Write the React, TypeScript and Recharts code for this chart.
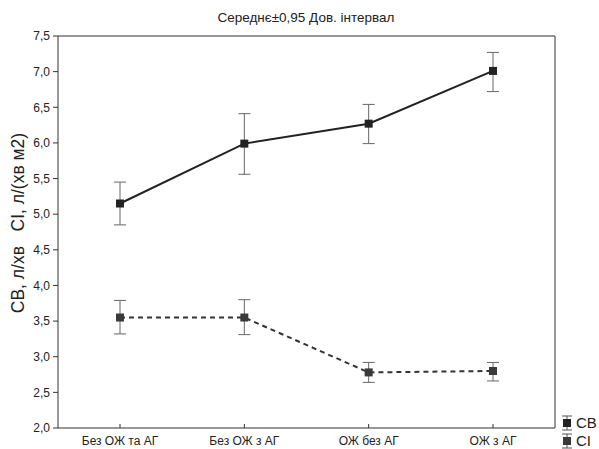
import React from 'react';
import { LineChart, Line, XAxis, YAxis, ErrorBar } from 'recharts';

// groups on the x axis
const groups = ['Без ОЖ та АГ', 'Без ОЖ з АГ', 'ОЖ без АГ', 'ОЖ з АГ'];

// СВ, л/хв: mean and 0.95 confidence limits
const cbMean = [5.15, 5.99, 6.27, 7.01];
const cbLow = [4.85, 5.56, 5.99, 6.72];
const cbHigh = [5.45, 6.41, 6.54, 7.27];

// СІ, л/(хв м2): mean and 0.95 confidence limits
const ciMean = [3.55, 3.55, 2.78, 2.8];
const ciLow = [3.32, 3.31, 2.64, 2.66];
const ciHigh = [3.79, 3.8, 2.92, 2.92];

const yTicks = [2, 2.5, 3, 3.5, 4, 4.5, 5, 5.5, 6, 6.5, 7, 7.5];

const seriesNames = ['СВ', 'СІ'];

const data = groups.map((name, i) => ({
  name,
  cb: cbMean[i],
  cbErr: [cbMean[i] - cbLow[i], cbHigh[i] - cbMean[i]],
  ci: ciMean[i],
  ciErr: [ciMean[i] - ciLow[i], ciHigh[i] - ciMean[i]],
}));

const FONT = '"Liberation Sans", Arial, sans-serif';
const fmt = (v: number) => v.toFixed(1).replace('.', ',');

const squareDot = (fill: string) => (props: any) => {
  const { cx, cy, index } = props;
  if (cx == null || cy == null) return <g key={index} />;
  return <rect key={index} x={cx - 4} y={cy - 4} width={8} height={8} fill={fill} />;
};

const LegendIcon = ({ fill }: { fill: string }) => (
  <svg width={12} height={16} style={{ display: 'block' }}>
    <line x1={6} y1={1} x2={6} y2={15} stroke="#555" />
    <line x1={1} y1={1} x2={11} y2={1} stroke="#555" />
    <line x1={1} y1={15} x2={11} y2={15} stroke="#555" />
    <rect x={2} y={4} width={8} height={8} fill={fill} />
  </svg>
);

const App: React.FC = () => {
  return (
    <div style={{ position: 'absolute', left: 0, top: 0, width: 599, height: 449, background: '#fff', fontFamily: FONT }}>
      <LineChart
        width={599}
        height={449}
        data={data}
        margin={{ top: 32, right: 40, left: 0, bottom: 0 }}
      >
        <text x={306} y={22} textAnchor="middle" fontSize={13.5} fill="#222" fontFamily={FONT}>
          Середнє±0,95 Дов. інтервал
        </text>
        <XAxis
          dataKey="name"
          height={21}
          padding={{ left: 62, right: 62 }}
          axisLine={{ stroke: '#333' }}
          tickLine={{ stroke: '#333' }}
          tickSize={-4}
          tickMargin={12}
          tick={{ fill: '#222', fontSize: 12, fontFamily: FONT }}
          interval={0}
        />
        <XAxis
          xAxisId="top"
          orientation="top"
          dataKey="name"
          height={4}
          padding={{ left: 62, right: 62 }}
          axisLine={{ stroke: '#333' }}
          tickLine={{ stroke: '#333' }}
          tickSize={-4}
          tick={false}
          interval={0}
        />
        <YAxis
          width={58}
          domain={[2, 7.5]}
          ticks={yTicks}
          interval={0}
          tickFormatter={fmt}
          axisLine={{ stroke: '#333' }}
          tickLine={{ stroke: '#333' }}
          tickSize={5}
          tickMargin={3}
          tick={{ fill: '#222', fontSize: 12, fontFamily: FONT }}
          label={{
            content: () => (
              <text
                x={19}
                y={223}
                transform="rotate(-90 19 223)"
                textAnchor="middle"
                dominantBaseline="middle"
                fontSize={17.5}
                fill="#222"
                fontFamily={FONT}
              >
                {'СВ, л/хв\u00A0\u00A0\u00A0СІ, л/(хв м2)'}
              </text>
            ),
          }}
        />
        <YAxis
          yAxisId="right"
          orientation="right"
          width={4}
          domain={[2, 7.5]}
          ticks={yTicks}
          interval={0}
          axisLine={{ stroke: '#333' }}
          tickLine={{ stroke: '#333' }}
          tickSize={-4}
          tick={false}
        />
        <Line
          dataKey="cb"
          name={seriesNames[0]}
          stroke="#222"
          strokeWidth={2}
          dot={squareDot('#222')}
          activeDot={false}
          isAnimationActive={false}
        >
          <ErrorBar dataKey="cbErr" direction="y" width={6} stroke="#666" strokeWidth={1} />
        </Line>
        <Line
          dataKey="ci"
          name={seriesNames[1]}
          stroke="#333"
          strokeWidth={2}
          strokeDasharray="5 4"
          dot={squareDot('#3a3a3a')}
          activeDot={false}
          isAnimationActive={false}
        >
          <ErrorBar dataKey="ciErr" direction="y" width={6} stroke="#666" strokeWidth={1} />
        </Line>
      </LineChart>
      <div style={{ position: 'absolute', left: 561, top: 414, fontSize: 15, color: '#222', lineHeight: '18px' }}>
        {seriesNames.map((n, i) => (
          <div key={n} style={{ display: 'flex', alignItems: 'center', gap: 3, height: 18 }}>
            <LegendIcon fill={i === 0 ? '#222' : '#3a3a3a'} />
            <span>{n}</span>
          </div>
        ))}
      </div>
    </div>
  );
};

export default App;
